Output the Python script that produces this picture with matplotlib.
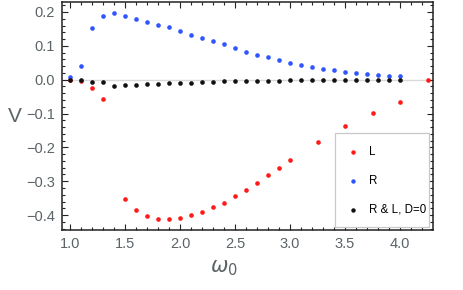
import matplotlib
matplotlib.use("Agg")
import matplotlib.pyplot as plt
from matplotlib.ticker import MultipleLocator
from matplotlib.patches import Rectangle
from matplotlib.lines import Line2D

plt.rcParams['font.family'] = ['Liberation Sans', 'DejaVu Sans']
plt.rcParams['mathtext.fontset'] = 'dejavusans'

# Data
omega_R = [1.0, 1.1, 1.2, 1.3, 1.4, 1.5, 1.6, 1.7, 1.8, 1.9, 2.0, 2.1, 2.2, 2.3, 2.4,
           2.5, 2.6, 2.7, 2.8, 2.9, 3.0, 3.1, 3.2, 3.3, 3.4, 3.5, 3.6, 3.7, 3.8, 3.9, 4.0]
V_R = [0.009, 0.041, 0.153, 0.188, 0.197, 0.188, 0.179, 0.171, 0.163, 0.155, 0.144,
       0.133, 0.124, 0.114, 0.104, 0.093, 0.082, 0.074, 0.066, 0.058, 0.050, 0.044,
       0.038, 0.033, 0.029, 0.024, 0.021, 0.018, 0.015, 0.011, 0.010]

omega_D0 = omega_R
V_D0 = [-0.001, -0.001, -0.006, -0.006, -0.018, -0.016, -0.016, -0.013, -0.014, -0.010,
        -0.010, -0.010, -0.007, -0.006, -0.005, -0.005, -0.003, -0.003, -0.003, -0.003,
        -0.001, -0.001, -0.001, -0.001, -0.001, 0.000, 0.000, 0.000, 0.000, 0.000, 0.000]

omega_L = [1.0, 1.1, 1.2, 1.3, 1.5, 1.6, 1.7, 1.8, 1.9, 2.0, 2.1, 2.2, 2.3, 2.4, 2.5,
           2.6, 2.7, 2.8, 2.9, 3.0, 3.25, 3.5, 3.75, 4.0, 4.25]
V_L = [-0.002, -0.003, -0.025, -0.057, -0.351, -0.386, -0.403, -0.412, -0.412, -0.408,
       -0.401, -0.391, -0.377, -0.363, -0.344, -0.326, -0.305, -0.282, -0.261, -0.238,
       -0.185, -0.137, -0.098, -0.067, -0.001]

labels = ['L', 'R', 'R & L, D=0']
colors = ['#ff1a1a', '#2f55ff', '#111111']

W, H = 463, 290
fig = plt.figure(figsize=(W / 100, H / 100), dpi=100)
ax_l, ax_r, ax_t, ax_b = 62, 432.5, 1.5, 230
ax = fig.add_axes([ax_l / W, 1 - ax_b / H, (ax_r - ax_l) / W, (ax_b - ax_t) / H])

ax.axhline(0, color='#d9d9d9', lw=1.0, zorder=1)
ms = 11
ax.scatter(omega_L, V_L, s=ms, color=colors[0], lw=0, zorder=3)
ax.scatter(omega_R, V_R, s=ms, color=colors[1], lw=0, zorder=4)
ax.scatter(omega_D0, V_D0, s=ms, color=colors[2], lw=0, zorder=5)

ax.set_xlim(0.927, 4.295)
ax.set_ylim(-0.444, 0.231)

ax.xaxis.set_major_locator(MultipleLocator(0.5))
ax.xaxis.set_minor_locator(MultipleLocator(0.1))
ax.yaxis.set_major_locator(MultipleLocator(0.1))
ax.yaxis.set_minor_locator(MultipleLocator(0.02))
ax.xaxis.set_major_formatter(matplotlib.ticker.FormatStrFormatter('%.1f'))
ax.yaxis.set_major_formatter(matplotlib.ticker.FuncFormatter(
    lambda v, p: ('%.1f' % v).replace('-', '\u2212') if abs(v) > 1e-9 else '0.0'))

lab_col = '#5b6366'
ax.tick_params(which='both', direction='in', top=True, right=True, color='#222222',
               width=0.8)
ax.tick_params(which='major', length=4, labelsize=10.5, labelcolor=lab_col, pad=5)
ax.tick_params(which='minor', length=2.2)
for s in ax.spines.values():
    s.set_color('#222222')
    s.set_linewidth(1.1)

ax.set_ylabel('V', rotation=0, fontsize=15, color=lab_col, va='center', ha='center')
ax.yaxis.set_label_coords((15 - ax_l) / (ax_r - ax_l), (ax_b - 116) / (ax_b - ax_t))
ax.set_xlabel(r'$\omega_0$', fontsize=15, color=lab_col, va='center', ha='center')
ax.xaxis.set_label_coords((224 - ax_l) / (ax_r - ax_l), (ax_b - 268) / (ax_b - ax_t))

# Legend (manual box)
lx0, lx1, ly0, ly1 = 335, 429, 133.3, 227
fig.add_artist(Rectangle((lx0 / W, 1 - ly1 / H), (lx1 - lx0) / W, (ly1 - ly0) / H,
                         transform=fig.transFigure, facecolor='white',
                         edgecolor='#c8c8c8', lw=0.9, zorder=10))
rows_y = [151.7, 180.7, 210]
for lab, c, yy in zip(labels, colors, rows_y):
    fig.add_artist(Line2D([353 / W], [1 - yy / H], transform=fig.transFigure,
                          marker='o', ms=3.2, mew=0, color=c, ls='none', zorder=11))
    fig.text(369 / W, 1 - yy / H, lab, fontsize=8.3, color='black', va='center',
             ha='left', zorder=11)

fig.savefig('out.png', dpi=100)
